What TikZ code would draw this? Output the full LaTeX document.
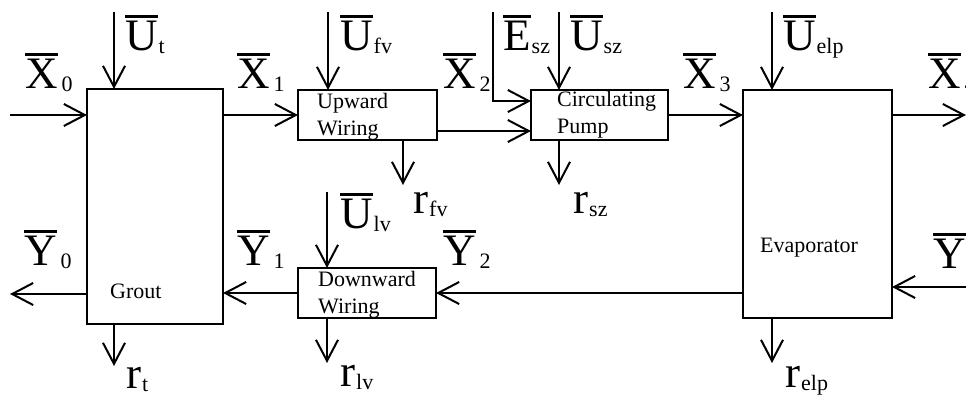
\documentclass[tikz,border=0pt]{standalone}
\usepackage{fontspec}
\setmainfont{Liberation Serif}
\usetikzlibrary{arrows.meta}

% barred flow symbol with subscript
\newcommand\flowlab[3][1pt]{\vbox{\hrule height 2.5pt\kern 3pt\hbox{\fontsize{45}{45}\selectfont #2}}\kern #1\raisebox{-3pt}{\fontsize{22}{22}\selectfont #3}}
% loss symbol r with subscript
\newcommand\losslab[1]{{\fontsize{45}{45}\selectfont r}\kern 1pt\raisebox{-3pt}{\fontsize{22}{22}\selectfont #1}}

\begin{document}
\begin{tikzpicture}[
  x=1pt, y=-1pt,
  unit/.style={draw, line width=2pt, inner sep=0pt, outer sep=0pt},
  boxtext/.style={font=\fontsize{22}{27}\selectfont, align=left, inner sep=0pt},
  sym/.style={anchor=base west, inner sep=0pt},
  flow/.style={line width=2pt, -{Straight Barb[length=21pt, width=22pt]}}
]
  \useasboundingbox (0,0) rectangle (966,397);

  % Units
  \node[unit, minimum width=136pt, minimum height=235pt] (grout) at (155,206.5) {};
  \node[unit, minimum width=139pt, minimum height=50pt] (upward) at (367.5,115) {};
  \node[unit, minimum width=137pt, minimum height=50pt] (pump) at (599.5,115) {};
  \node[unit, minimum width=149pt, minimum height=228pt] (evap) at (817.5,204) {};
  \node[unit, minimum width=138pt, minimum height=50pt] (downward) at (367,293) {};

  % Unit names
  \node[boxtext, anchor=base west] (grouttext) at (110,298) {Grout};
  \node[boxtext, anchor=west] (upwardtext) at (317,116.5) {Upward\\Wiring};
  \node[boxtext, anchor=west] (pumptext) at (557,115) {Circulating\\Pump};
  \node[boxtext, anchor=base west] (evaptext) at (760,252) {Evaporator};
  \node[boxtext, anchor=west] (downwardtext) at (318,295) {Downward\\Wiring};

  % Free ends
  \coordinate (x0in) at (10,115);
  \coordinate (y0out) at (10,294);
  \coordinate (utin) at (114,12);
  \coordinate (rtout) at (114,366);
  \coordinate (ufvin) at (328,12);
  \coordinate (rfvout) at (403,185);
  \coordinate (eszin) at (493,12);
  \coordinate (uszin) at (559,12);
  \coordinate (rszout) at (559,185);
  \coordinate (ulvin) at (327,192);
  \coordinate (rlvout) at (327,363);
  \coordinate (uelpin) at (772,12);
  \coordinate (relpout) at (772,363);
  \coordinate (x4out) at (966,115);
  \coordinate (y3in) at (966,287);

  % Upper line
  \draw[flow] (x0in) -- (x0in -| grout.west);
  \draw[flow] (upward.west -| grout.east) -- (upward.west);
  \draw[flow] ([yshift=-16pt]upward.east) -- ([yshift=-16pt]pump.west);
  \draw[flow] (eszin) |- ([yshift=14pt]pump.west);
  \draw[flow] (pump.east) -- (pump.east -| evap.west);
  \draw[flow] (x4out -| evap.east) -- (x4out);

  % Lower line
  \draw[flow] (y3in) -- (y3in -| evap.east);
  \draw[flow] (downward.east -| evap.west) -- (downward.east);
  \draw[flow] (downward.west) -- (downward.west -| grout.east);
  \draw[flow] (y0out -| grout.west) -- (y0out);

  % Inputs from above
  \draw[flow] (utin) -- (utin |- grout.north);
  \draw[flow] (ufvin) -- (ufvin |- upward.north);
  \draw[flow] (uszin) -- (uszin |- pump.north);
  \draw[flow] (uelpin) -- (uelpin |- evap.north);
  \draw[flow] (ulvin) -- (ulvin |- downward.north);

  % Losses
  \draw[flow] (rtout |- grout.south) -- (rtout);
  \draw[flow] (rfvout |- upward.south) -- (rfvout);
  \draw[flow] (rszout |- pump.south) -- (rszout);
  \draw[flow] (rlvout |- downward.south) -- (rlvout);
  \draw[flow] (relpout |- evap.south) -- (relpout);

  % Flow symbols
  \node[sym] (x0lab) at (25,88) {\flowlab[4pt]{X}{0}};
  \node[sym] (x1lab) at (237,88) {\flowlab[4pt]{X}{1}};
  \node[sym] (x2lab) at (443,88) {\flowlab[4pt]{X}{2}};
  \node[sym] (x3lab) at (683,88) {\flowlab[4pt]{X}{3}};
  \node[sym] (x4lab) at (928,88) {\flowlab[4pt]{X}{4}};
  \node[sym] (y0lab) at (24,265) {\flowlab[4pt]{Y}{0}};
  \node[sym] (y1lab) at (237,265) {\flowlab[4pt]{Y}{1}};
  \node[sym] (y2lab) at (443,265) {\flowlab[4pt]{Y}{2}};
  \node[sym] (y3lab) at (933,268) {\flowlab[4pt]{Y}{3}};
  \node[sym] (utlab) at (125,50) {\flowlab{U}{t}};
  \node[sym] (ufvlab) at (340,50) {\flowlab{U}{fv}};
  \node[sym] (eszlab) at (503,50) {\flowlab{E}{sz}};
  \node[sym] (uszlab) at (570,50) {\flowlab{U}{sz}};
  \node[sym] (uelplab) at (783,50) {\flowlab{U}{elp}};
  \node[sym] (ulvlab) at (340,228) {\flowlab{U}{lv}};

  % Loss symbols
  \node[sym] (rtlab) at (126,388) {\losslab{t}};
  \node[sym] (rfvlab) at (413,213) {\losslab{fv}};
  \node[sym] (rszlab) at (573,213) {\losslab{sz}};
  \node[sym] (rlvlab) at (340,386) {\losslab{lv}};
  \node[sym] (relplab) at (785,387) {\losslab{elp}};

\end{tikzpicture}
\end{document}
